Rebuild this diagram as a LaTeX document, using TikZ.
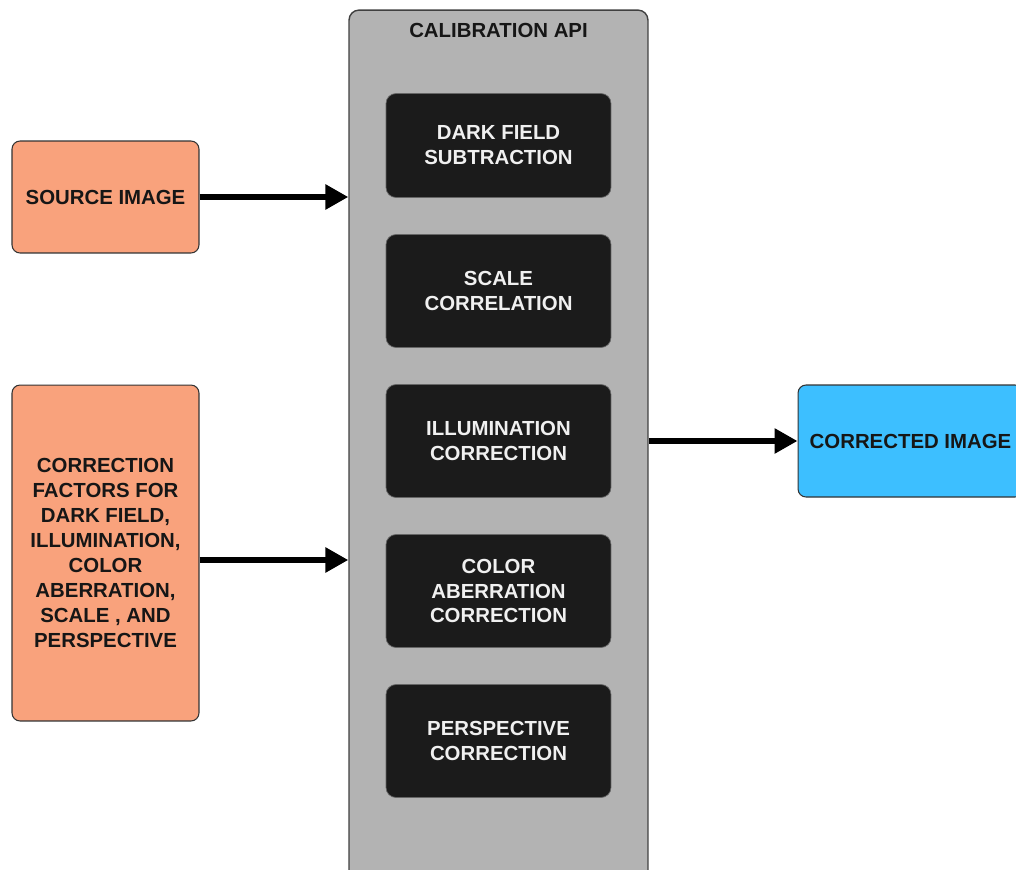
\documentclass[tikz,border=0pt]{standalone}
\usepackage{fontspec}
\setmainfont{Liberation Sans}
\usepackage{xcolor}
\usepackage{tikz}
\usetikzlibrary{shapes,arrows.meta,positioning,calc}

\definecolor{salmon}{RGB}{249,162,124}
\definecolor{skyout}{RGB}{61,191,255}
\definecolor{apigray}{RGB}{179,179,179}
\definecolor{stageblack}{RGB}{27,27,27}
\definecolor{txtdark}{RGB}{22,22,22}

\begin{document}
\begin{tikzpicture}[x=0.02cm,y=-0.02cm,
  font=\fontsize{11.6}{14.2}\selectfont\bfseries,
  inbox/.style={draw=black!80,line width=0.6pt,fill=salmon,rounded corners=0.16cm,
    minimum width=3.74cm,align=center,text=txtdark},
  stage/.style={draw=black!60,line width=0.4pt,fill=stageblack,rounded corners=0.2cm,
    minimum width=4.5cm,align=center,text=white!94!black},
  flow/.style={line width=0.12cm,-{Triangle[length=0.46cm,width=0.48cm]}}]
\useasboundingbox (0,0) rectangle (1016,869);
% Calibration API container
\node[draw=black!75,line width=0.8pt,fill=apigray,rounded corners=0.2cm,
  minimum width=5.98cm,minimum height=17.5cm] (api) at (498.5,447.5) {};
\node[text=txtdark] (title) at (498.5,30) {CALIBRATION API};
% Stages
\node[stage,minimum height=2.08cm] (dark) at (498.5,145.5) {DARK FIELD\\SUBTRACTION};
\node[stage,minimum height=2.26cm] (scale) at (498.5,291) {SCALE\\CORRELATION};
\node[stage,minimum height=2.26cm] (illum) at (498.5,441) {ILLUMINATION\\CORRECTION};
\node[stage,minimum height=2.26cm] (color) at (498.5,591) {COLOR\\ABERRATION\\CORRECTION};
\node[stage,minimum height=2.26cm] (persp) at (498.5,741) {PERSPECTIVE\\CORRECTION};
% Inputs
\node[inbox,minimum height=2.24cm] (src) at (105.5,197) {SOURCE IMAGE};
\node[inbox,minimum height=6.72cm] (fac) at (105.5,553) {CORRECTION\\FACTORS FOR\\DARK FIELD,\\ILLUMINATION,\\COLOR\\ABERRATION,\\SCALE , AND\\PERSPECTIVE};
% Output
\node[draw=black!80,line width=0.6pt,fill=skyout,rounded corners=0.16cm,
  minimum width=4.5cm,minimum height=2.24cm,text=txtdark] (out) at (910.5,441) {CORRECTED IMAGE};
% Arrows
\draw[flow] (src.east) -- (src.east -| api.west);
\draw[flow] ([yshift=-0.14cm]fac.east) -- ([yshift=-0.14cm]fac.east -| api.west);
\draw[flow] (out.west -| api.east) -- (out.west);
\end{tikzpicture}
\end{document}
